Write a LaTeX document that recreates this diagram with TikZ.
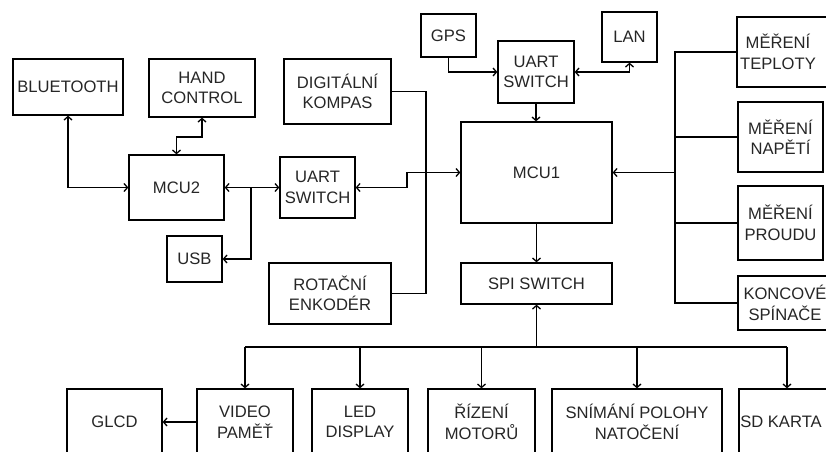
\documentclass[tikz,border=0pt]{standalone}
\usepackage{fontspec}
\setmainfont{Liberation Sans}
\usetikzlibrary{arrows.meta}
\begin{document}
\begin{tikzpicture}[x=1pt,y=-1pt,
  line width=1.3pt,
  box/.style={draw, line width=1.3pt, inner sep=0pt, align=center,
    text=black!85, font=\fontsize{16.6}{20.5}\selectfont},
  wh/.style 2 args={minimum width=#1pt, minimum height=#2pt},
  lbl/.style={inner sep=0pt, align=center, text=black!85,
    font=\fontsize{16.6}{20.5}\selectfont},
  tip/.tip={Straight Barb[length=3.5pt,width=8pt]},
  arr/.style={-tip},
  both/.style={tip-tip}]
\useasboundingbox (0,0) rectangle (826,451);
\clip (0,0) rectangle (826,451);
\fill[white] (0,0) rectangle (826,451);

% left part
\node[box, wh={110}{56}] (bt) at (68,87) {BLUETOOTH};
\node[box, wh={106}{58}] (hand) at (202,88) {HAND\\CONTROL};
\node[box, wh={107}{65}] (kompas) at (337.5,91.5) {DIGITÁLNÍ\\KOMPAS};
\node[box, wh={95}{65}] (mcu2) at (176.5,187.5) {MCU2};
\node[box, wh={75}{61}] (uart2) at (317.5,187.5) {UART\\SWITCH};
\node[box, wh={55}{46}] (usb) at (194.5,259) {USB};
\node[box, wh={122}{61}] (enk) at (330,293.5) {ROTAČNÍ\\ENKODÉR};

% top middle
\node[box, wh={55}{43}] (gps) at (448.5,35.5) {GPS};
\node[box, wh={76}{62}] (uart1) at (536,72) {UART\\SWITCH};
\node[box, wh={55}{50}] (lan) at (629.5,37) {LAN};
\node[box, wh={151}{101}] (mcu1) at (536.5,172.5) {MCU1};
\node[box, wh={151}{41}] (spi) at (536.5,283.5) {SPI SWITCH};

% right column
\node[box, wh={98}{70}] (tepl) at (786,52) {};
\node[lbl] (teplT) at (778,52) {MĚŘENÍ\\TEPLOTY};
\node[box, wh={85}{70}] (nap) at (780.5,137) {MĚŘENÍ\\NAPĚTÍ};
\node[box, wh={85}{74}] (proud) at (780.5,223) {MĚŘENÍ\\PROUDU};
\node[box, wh={97}{54}] (konc) at (786.5,303) {};
\node[lbl] (koncT) at (785,303) {KONCOVÉ\\SPÍNAČE};

% bottom row
\node[box, wh={95}{66}] (glcd) at (114.5,422) {GLCD};
\node[box, wh={96}{66}] (video) at (245,422) {VIDEO\\PAMĚŤ};
\node[box, wh={96}{66}] (led) at (360,422) {LED\\DISPLAY};
\node[box, wh={107}{66}] (riz) at (481.5,422) {ŘÍZENÍ\\MOTORŮ};
\node[box, wh={170}{66}] (snim) at (637,422) {SNÍMÁNÍ POLOHY\\NATOČENÍ};
\node[box, wh={96}{66}] (sd) at (787,422) {};
\node[lbl] (sdT) at (781,422) {SD KARTA};

% connectors left
\draw[both] (bt.south) |- (mcu2.west);
\draw[both] (mcu2.north) -- (176.5,137) -| (hand.south);
\draw[both] (mcu2.east) -- (uart2.west);
\coordinate (j1) at (251,187.5);
\draw[arr] (j1) |- (usb.east);
\coordinate (k1) at (407,187.5);
\coordinate (k2) at (407,172.5);
\draw[both] (uart2.east) -- (k1) -- (k2) -- (mcu1.west);
\coordinate (kc) at (426,293.5);
\draw (kompas.east) -| (kc) -- (enk.east);

% top
\draw[arr] (gps.south) |- (uart1.west);
\draw[both] (uart1.east) -| (lan.south);
\draw[arr] (uart1.south) -- (uart1.south |- mcu1.north);
\draw[arr] (mcu1.south) -- (spi.north);

% right bus
\coordinate (rb) at (675,172.5);
\draw (tepl.west) -| (rb);
\draw (rb) |- (konc.west);
\draw (nap.west) -- (nap.west -| rb);
\draw (proud.west) -- (proud.west -| rb);
\draw[arr] (rb) -- (mcu1.east);

% bottom bus
\coordinate (sb) at (536.5,347);
\draw[arr] (sb) -- (spi.south);
\draw (video.north |- sb) -- (sd.north |- sb);
\foreach \n in {video,led,riz,snim,sd}
  \draw[arr] (\n.north |- sb) -- (\n.north);
\draw[arr] (video.west) -- (glcd.east);
\end{tikzpicture}
\end{document}
